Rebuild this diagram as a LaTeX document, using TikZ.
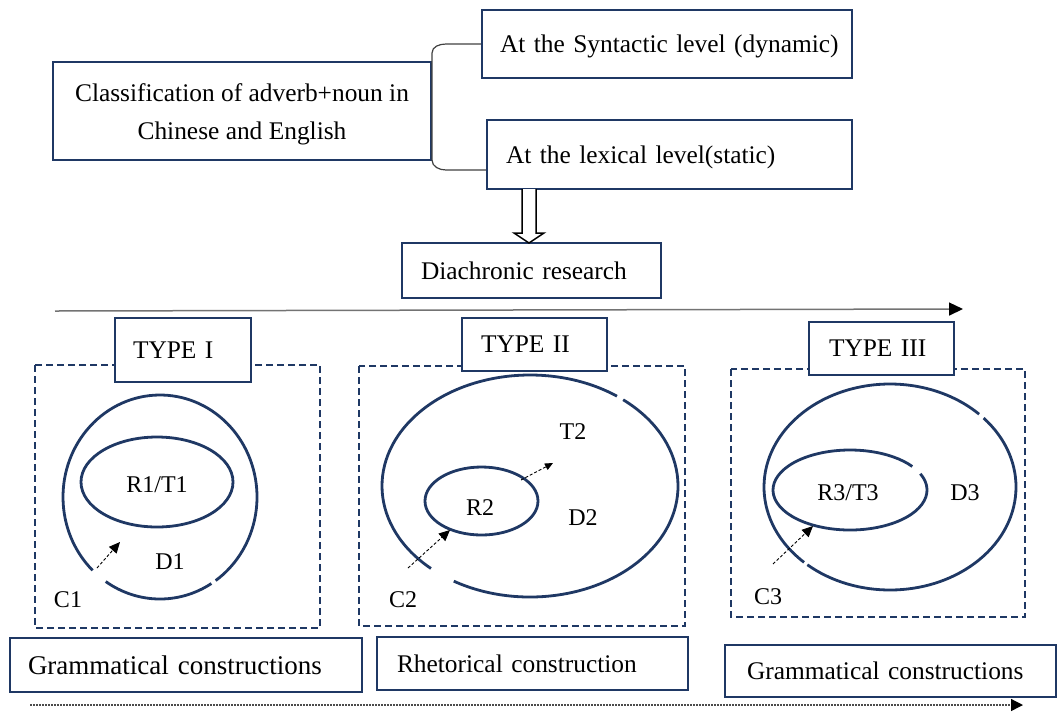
\documentclass[tikz,border=0pt]{standalone}
\usepackage{fontspec}
\setmainfont{Liberation Serif}
\usetikzlibrary{arrows.meta,calc}
\definecolor{navy}{RGB}{31,56,100}
\begin{document}
\begin{tikzpicture}[x=1pt,y=-1pt,
  box/.style={draw=navy, line width=2.5pt, fill=white, inner ysep=0pt,
    font=\fontsize{25.4}{38}\selectfont},
  lbox/.style n args={3}{box, minimum height=#2, text width=#1-2*#3, inner xsep=#3, align=left, text depth=0pt},
  dbox/.style={draw=navy, line width=2.5pt, dash pattern=on 7pt off 4pt},
  circ/.style={draw=navy, line width=2.8pt},
  lab/.style={font=\fontsize{24}{28}\selectfont, inner sep=0pt},
  darr/.style={draw=black, line width=0.9pt, dash pattern=on 3pt off 2pt,
    -{Triangle[length=11pt,width=10pt]}},
  brace/.style={draw=black!75, line width=1.2pt},
]
\useasboundingbox (0,0) rectangle (1059,713);

% top boxes
\node[box, minimum width=378, minimum height=98, align=center] (cls) at (242,111)
  {\rule{0pt}{24pt}Classification of adverb+noun in\\Chinese and English};
\node[lbox={370}{68}{18}] (syn) at (667,44) {\mbox{At the Syntactic level (dynamic)}};
\node[lbox={365}{69}{19}] (lex) at (669.5,154.5) {\mbox{At the lexical level(static)}};
\node[lbox={259}{55}{19}] (dia) at (531.5,270.5) {\mbox{Diachronic research}};

% brace
\draw[brace] (syn.west) -- (446,44) to[out=180,in=90] (432,53) -- (432,160)
  to[out=-90,in=180] (446,170) -- ($(lex.west)+(0,15.5)$);

% hollow arrow
\draw[black, line width=1.5pt, fill=white] (522,189) -- (522,233) -- (514,233)
  -- (529,243) -- (544,233) -- (536,233) -- (536,189);

% timeline
\coordinate (tl0) at (55,311);
\coordinate (tl1) at (963,309);
\draw[black!55, line width=1.5pt, -{Triangle[length=14pt,width=13pt,black]}] (tl0) -- (tl1);

% dashed frames
\draw[dbox] (35,365) rectangle (320,628);
\draw[dbox] (359,366) rectangle (685,626);
\draw[dbox] (731,369) rectangle (1025,617);

% TYPE I circles
\draw[circ] (160,497) ++(134:97 and 102) arc[start angle=134, end angle=415, x radius=97, y radius=102];
\draw[circ] (160,497) ++(58:97 and 102) arc[start angle=58, end angle=124, x radius=97, y radius=102];
\draw[circ] (157,482) ellipse[x radius=76, y radius=45];
\node[lab] (r1) at (157,485) {R1/T1};
\node[lab] (d1) at (170,562) {D1};
\node[lab] (c1) at (68,600) {C1};
\coordinate (a1s) at (97,568);
\coordinate (a1e) at (120,542);
\draw[darr] (a1s) -- (a1e);

% TYPE II circles
\draw[circ] (530,486) ++(132:148 and 111) arc[start angle=132, end angle=306, x radius=148, y radius=111];
\draw[circ] (530,486) ++(309:148 and 111) arc[start angle=309, end angle=481, x radius=148, y radius=111];
\draw[circ] (481.5,501) ellipse[x radius=56.5, y radius=34];
\node[lab] (r2) at (480,508) {R2};
\node[lab] (tt2) at (573,432) {T2};
\node[lab] (d2) at (583,518) {D2};
\node[lab] (c2) at (403,600) {C2};
\coordinate (a2s) at (408,568);
\coordinate (a2e) at (450,530);
\coordinate (a3s) at (521,480);
\coordinate (a3e) at (553,463);
\draw[darr] (a2s) -- (a2e);
\draw[darr, -{Triangle[length=8pt,width=7pt]}] (a3s) -- (a3e);

% TYPE III circles
\draw[circ] (890,487) ++(133:126 and 103) arc[start angle=133, end angle=315, x radius=126, y radius=103];
\draw[circ] (890,487) ++(318:126 and 103) arc[start angle=318, end angle=491, x radius=126, y radius=103];
\draw[circ] (850,490) ++(-24:77 and 40) arc[start angle=-24, end angle=324, x radius=77, y radius=40];
\node[lab] (r3) at (848,493) {R3/T3};
\node[lab] (d3) at (965,493) {D3};
\node[lab] (c3) at (768,597) {C3};
\coordinate (a4s) at (773,564);
\coordinate (a4e) at (813,526);
\draw[darr] (a4s) -- (a4e);

% TYPE boxes
\node[lbox={136}{64}{18}] (t1) at (183,350) {\mbox{TYPE I}};
\node[lbox={145}{53}{19}] (t2) at (534.5,344.5) {\mbox{TYPE II}};
\node[lbox={145}{53}{20}] (t3) at (881.5,348.5) {\mbox{TYPE III}};

% bottom boxes
\node[lbox={352}{54}{18}, font=\fontsize{27}{32}\selectfont] (g1) at (186,665) {\mbox{Grammatical constructions}};
\node[lbox={311}{53}{20}] (rh) at (532.5,663.5) {\mbox{Rhetorical construction}};
\node[lbox={331}{52}{22}] (g3) at (890.5,671) {\mbox{Grammatical constructions}};

% bottom dotted arrow
\coordinate (bl0) at (30,705);
\coordinate (bl1) at (1023,705);
\draw[black!70, line width=1.3pt, dash pattern=on 2pt off 1pt, -{Triangle[length=12pt,width=12pt,black]}] (bl0) -- (bl1);
\end{tikzpicture}
\end{document}
